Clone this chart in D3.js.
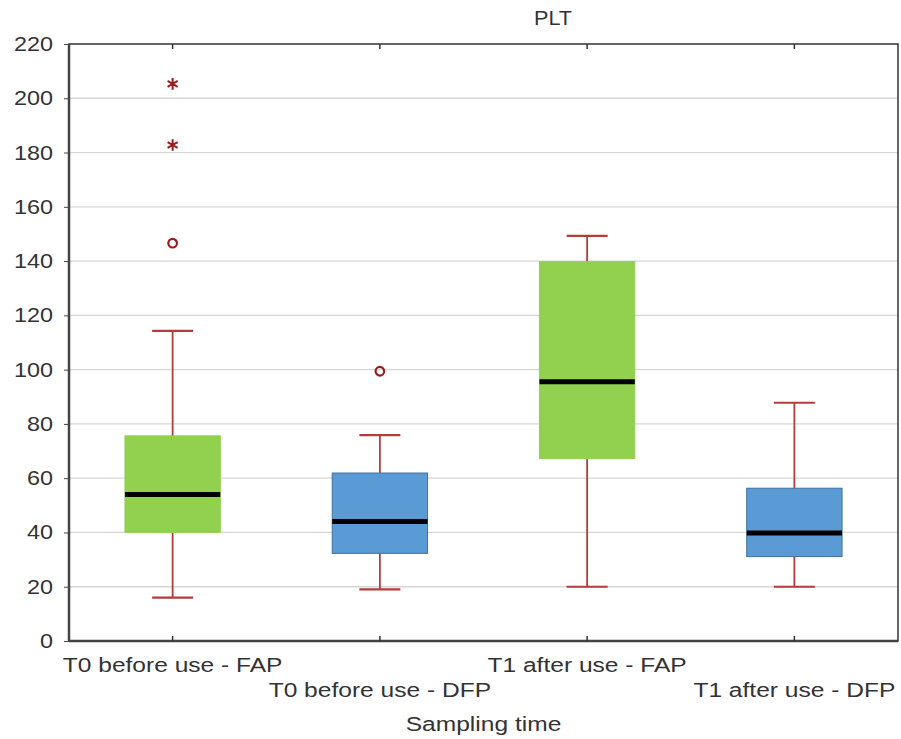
<!DOCTYPE html>
<html><head><meta charset="utf-8">
<script src="https://cdn.jsdelivr.net/npm/d3@7"></script>
<style>body{margin:0;background:#fff}text{font-family:"Liberation Sans",Arial,sans-serif}</style>
</head><body>
<svg id="c" width="901" height="739"></svg>
<script>
const categories = ["T0 before use - FAP","T0 before use - DFP","T1 after use - FAP","T1 after use - DFP"];
const whiskerLow = [16, 19, 20, 20];
const q1 = [40, 32.3, 67.2, 31.1];
const median = [54, 44, 95.5, 39.8];
const q3 = [75.6, 61.9, 139.8, 56.3];
const whiskerHigh = [114.3, 75.9, 149.3, 87.8];
const outliers = [[146.6], [99.4], [], []];
const extremes = [[182.8, 205.3], [], [], []];
const groupColors = ["#92D050","#5B9BD5","#92D050","#5B9BD5"];
const yTicks = [0,20,40,60,80,100,120,140,160,180,200,220];

const svg = d3.select("#c");
const m = {l:69, r:3, t:44, b:98};
const W = 901, H = 739;
const x = d3.scaleBand().domain(categories).range([m.l, W - m.r]).padding(0);
const y = d3.scaleLinear().domain([0,220]).range([H - m.b, m.t]);
const txt = "#333";

function stretched(parent, tx, ty, s, size, anchor, sx){
  return parent.append("text").attr("transform",`translate(${tx},${ty}) scale(${sx},1)`)
    .attr("text-anchor",anchor).attr("font-size",size).attr("fill",txt).text(s);
}

// grid
svg.append("g").selectAll("line").data(yTicks.slice(1,-1)).join("line")
  .attr("x1", m.l).attr("x2", W - m.r).attr("y1", d=>y(d)).attr("y2", d=>y(d))
  .attr("stroke","#d6d6d6").attr("stroke-width",1.3);

const bw = x.bandwidth()*0.46, cw = 41;
const g = svg.append("g").selectAll("g").data(categories).join("g")
  .attr("transform", d=>`translate(${x(d)+x.bandwidth()/2},0)`);
const wc = "#b33d3b";
g.append("line").attr("x1",0).attr("x2",0).attr("y1",(d,i)=>y(whiskerHigh[i])).attr("y2",(d,i)=>y(whiskerLow[i])).attr("stroke",wc).attr("stroke-width",1.8);
g.append("line").attr("x1",-cw/2).attr("x2",cw/2).attr("y1",(d,i)=>y(whiskerHigh[i])).attr("y2",(d,i)=>y(whiskerHigh[i])).attr("stroke",wc).attr("stroke-width",2.2);
g.append("line").attr("x1",-cw/2).attr("x2",cw/2).attr("y1",(d,i)=>y(whiskerLow[i])).attr("y2",(d,i)=>y(whiskerLow[i])).attr("stroke",wc).attr("stroke-width",2.2);
g.append("rect").attr("x",-bw/2).attr("width",bw).attr("y",(d,i)=>y(q3[i])).attr("height",(d,i)=>y(q1[i])-y(q3[i]))
  .attr("fill",(d,i)=>groupColors[i]).attr("stroke",(d,i)=>i%2? "#41719c":"#92D050").attr("stroke-width",1);
g.append("line").attr("x1",-bw/2).attr("x2",bw/2).attr("y1",(d,i)=>y(median[i])).attr("y2",(d,i)=>y(median[i])).attr("stroke","#000").attr("stroke-width",5);
const star = d3.symbol().type(d3.symbolAsterisk).size(95);
g.each(function(d,i){
  const s = d3.select(this);
  s.selectAll("circle").data(outliers[i]).join("circle").attr("cx",0).attr("cy",v=>y(v)).attr("r",4.3)
    .attr("fill","none").attr("stroke","#9c1a1a").attr("stroke-width",2.2);
  s.selectAll("path.ex").data(extremes[i]).join("path").attr("class","ex")
    .attr("transform",v=>`translate(0,${y(v)})`).attr("d",star)
    .attr("fill","none").attr("stroke","#9c1a1a").attr("stroke-width",2);
});

// frame
svg.append("rect").attr("x",m.l).attr("y",m.t).attr("width",W-m.r-m.l).attr("height",H-m.b-m.t)
  .attr("fill","none").attr("stroke","#333").attr("stroke-width",1.5);
svg.append("line").attr("x1",m.l).attr("x2",m.l).attr("y1",m.t).attr("y2",H-m.b).attr("stroke","#444").attr("stroke-width",2.5);
svg.append("line").attr("x1",m.l).attr("x2",W-m.r).attr("y1",H-m.b).attr("y2",H-m.b).attr("stroke","#444").attr("stroke-width",2.5);

// y axis
const ya = svg.append("g").attr("transform",`translate(${m.l},0)`)
  .call(d3.axisLeft(y).tickValues(yTicks).tickSize(5).tickFormat(""));
ya.select(".domain").remove();
ya.selectAll("line").attr("stroke","#444");
const yl = svg.append("g");
yTicks.forEach(t => stretched(yl, m.l-16, y(t)+7, t, 19.5, "end", 1.2));

// x ticks
svg.append("g").selectAll("line").data(categories).join("line")
  .attr("x1",d=>x(d)+x.bandwidth()/2).attr("x2",d=>x(d)+x.bandwidth()/2)
  .attr("y1",H-m.b).attr("y2",H-m.b-5).attr("stroke","#333").attr("stroke-width",1.5);
svg.append("g").selectAll("line").data(categories).join("line")
  .attr("x1",d=>x(d)+x.bandwidth()/2).attr("x2",d=>x(d)+x.bandwidth()/2)
  .attr("y1",m.t).attr("y2",m.t+5).attr("stroke","#333").attr("stroke-width",1.5);
const xl = svg.append("g");
categories.forEach((c,i) => stretched(xl, x(c)+x.bandwidth()/2, i%2 ? 697 : 672, c, 21, "middle", 1.17));

stretched(svg, (m.l+W-m.r)/2, 731, "Sampling time", 21, "middle", 1.17);
stretched(svg, 553, 25, "PLT", 20, "middle", 1.08);
</script>
</body></html>
